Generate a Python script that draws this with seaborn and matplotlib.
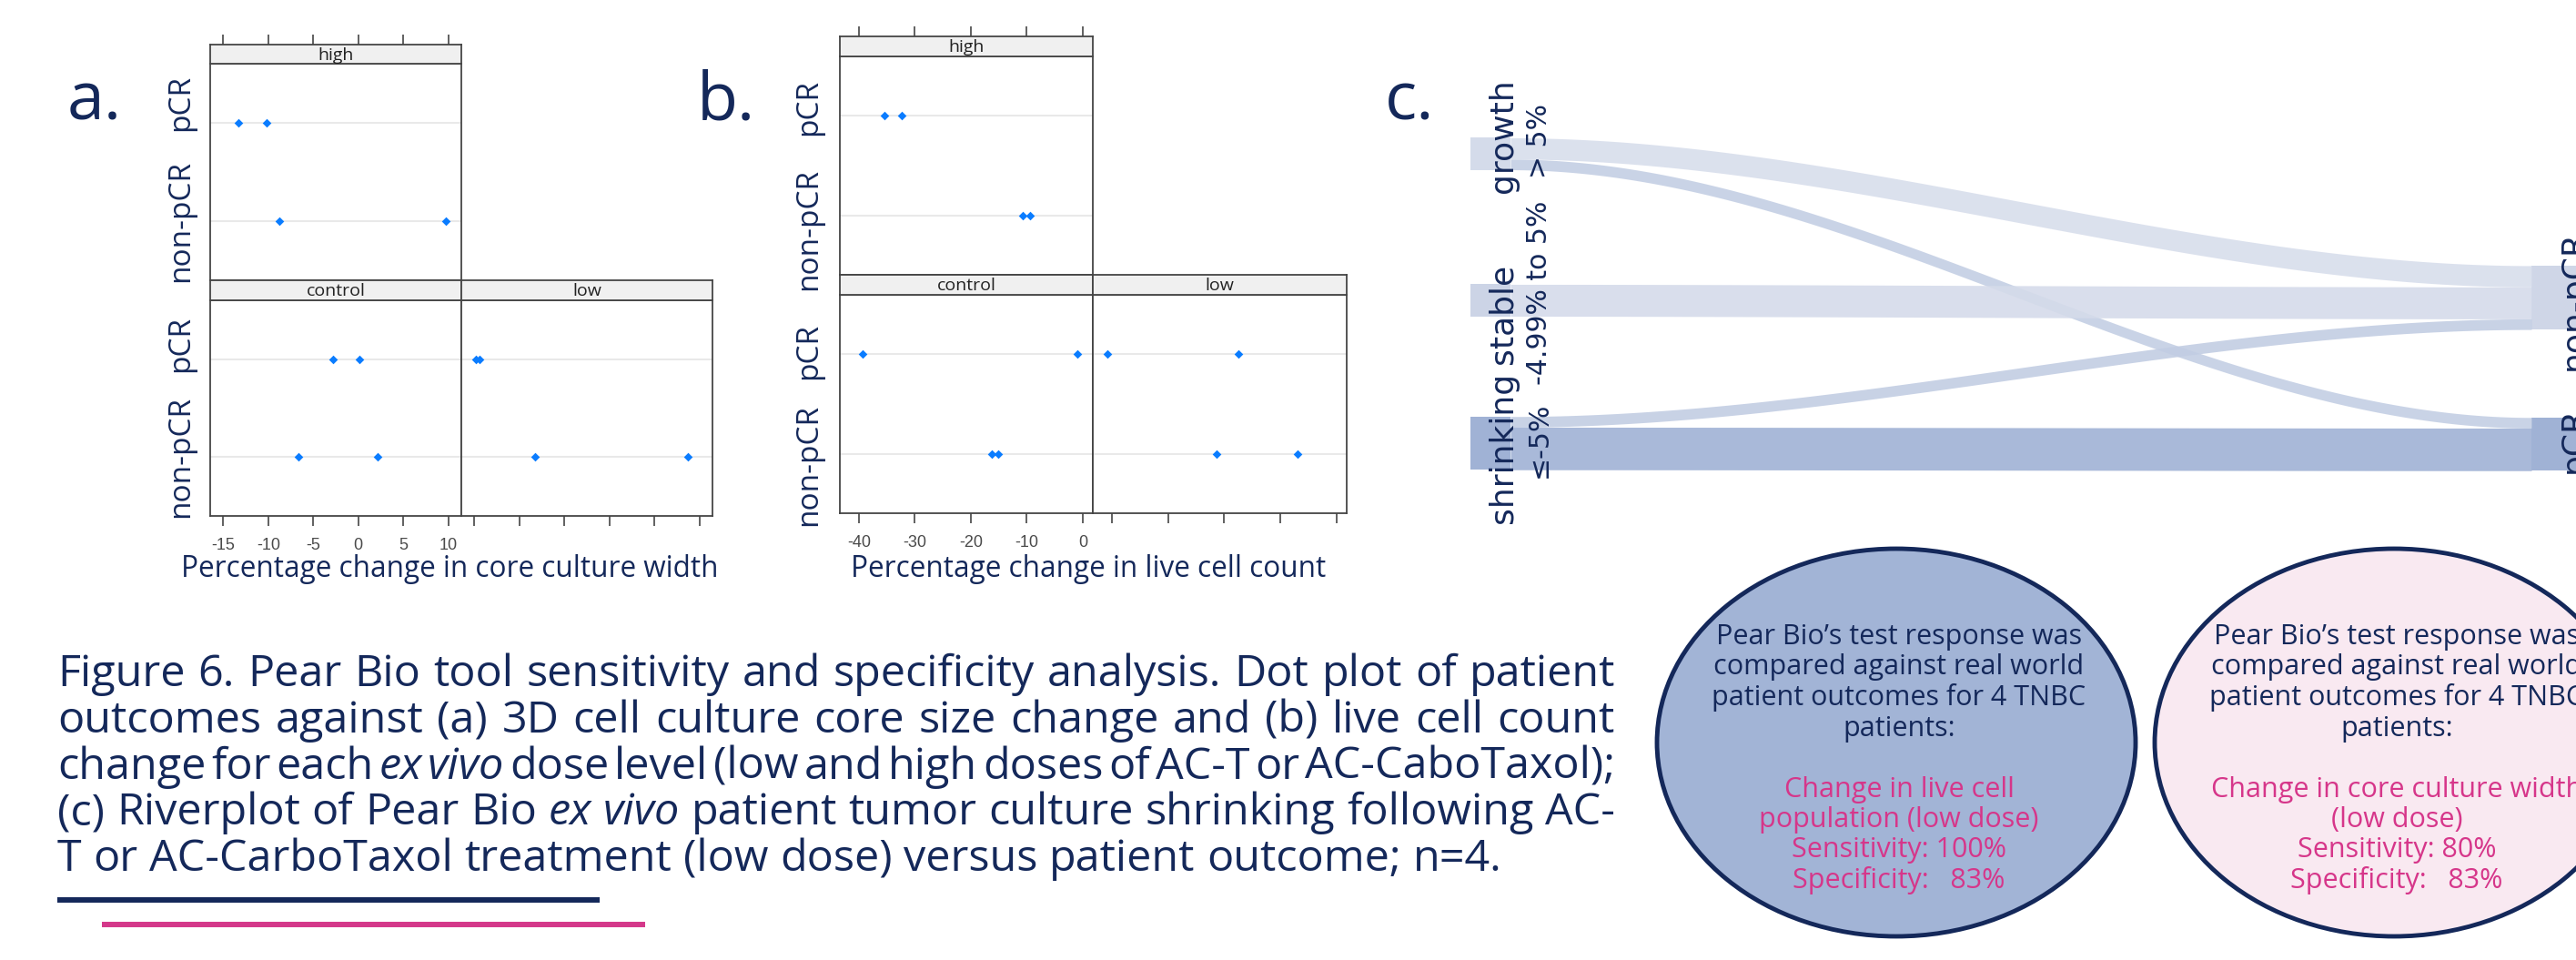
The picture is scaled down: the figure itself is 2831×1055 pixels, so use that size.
import numpy as np
import pandas as pd
import seaborn as sns
import matplotlib.pyplot as plt
import matplotlib.transforms as mtransforms
from matplotlib.colors import to_rgb
from matplotlib.patches import Ellipse, Rectangle

sns.set_theme(style="white")
plt.rcParams['font.family'] = ['Open Sans', 'DejaVu Sans']

NAVY = '#14285a'
PINK = '#d6368a'
BLUE = '#0a7cff'
NARROW = ['Liberation Sans Narrow', 'Liberation Sans', 'DejaVu Sans']

# ---------------- data ----------------
# panel a: percentage change in core culture width
a_high_pcr = [-13.3, -10.2]
a_high_non = [-8.8, 9.7]
a_control_pcr = [-2.8, 0.1]
a_control_non = [-6.6, 2.1]
a_low_pcr = [-14.8, -14.4]
a_low_non = [-8.3, 8.7]
a_ticks = [-15, -10, -5, 0, 5, 10]

# panel b: percentage change in live cell count
b_high_pcr = [-35.4, -32.3]
b_high_non = [-10.8, -9.4]
b_control_pcr = [-39.4, -1.0]
b_control_non = [-16.2, -15.1]
b_low_pcr = [-40.8, -17.5]
b_low_non = [-21.4, -7.0]
b_ticks = [-40, -30, -20, -10, 0]

outcomes = ['pCR', 'non-pCR']

# panel c: riverplot
river_left = ['growth', 'stable', 'shrinking']
river_left_sub = ['> 5%', '-4.99% to 5%', '≤-5%']
river_right = ['non-pCR', 'pCR']
flow_src = ['growth', 'growth', 'stable', 'shrinking', 'shrinking']
flow_dst = ['non-pCR', 'pCR', 'non-pCR', 'non-pCR', 'pCR']
flow_val = [2, 1, 3, 1, 4]

caption = [
    "Figure 6. Pear Bio tool sensitivity and specificity analysis. Dot plot of patient",
    "outcomes against (a) 3D cell culture core size change and (b) live cell count",
    "change for each *ex* *vivo* dose level (low and high doses of AC-T or AC-CaboTaxol);",
    "(c) Riverplot of Pear Bio *ex* *vivo* patient tumor culture shrinking following AC-",
    "T or AC-CarboTaxol treatment (low dose) versus patient outcome; n=4.",
]
left_navy = ["Pear Bio’s test response was", "compared against real world",
             "patient outcomes for 4 TNBC", "patients:"]
left_pink = ["Change in live cell", "population (low dose)",
             "Sensitivity: 100%", "Specificity:   83%"]
right_navy = left_navy
right_pink = ["Change in core culture width", "(low dose)",
              "Sensitivity: 80%", "Specificity:   83%"]


def make_df(high_p, high_n, ctl_p, ctl_n, low_p, low_n):
    rows = []
    for dose, outc, xs in [('high', 'pCR', high_p), ('high', 'non-pCR', high_n),
                           ('control', 'pCR', ctl_p), ('control', 'non-pCR', ctl_n),
                           ('low', 'pCR', low_p), ('low', 'non-pCR', low_n)]:
        for x in xs:
            rows.append({'dose': dose, 'outcome': outc, 'change': x})
    df = pd.DataFrame(rows)
    df['ypos'] = df['outcome'].map({'pCR': 2, 'non-pCR': 1})
    return df


df_a = make_df(a_high_pcr, a_high_non, a_control_pcr, a_control_non, a_low_pcr, a_low_non)
df_b = make_df(b_high_pcr, b_high_non, b_control_pcr, b_control_non, b_low_pcr, b_low_non)

# ---------------- figure ----------------
W, H = 2831, 1055
fig = plt.figure(figsize=(W / 100, H / 100), dpi=100)
bg = fig.add_axes([0, 0, 1, 1])
bg.set_xlim(0, W)
bg.set_ylim(H, 0)
bg.axis('off')


def fbox(x0, y0, x1, y1):
    return [x0 / W, 1 - y1 / H, (x1 - x0) / W, (y1 - y0) / H]


def style_spines(ax):
    for sp in ax.spines.values():
        sp.set_visible(True)
        sp.set_color('#454545')
        sp.set_linewidth(1.3)


def dot_panel(df, ticks, xlim, geo, xlabel, xlabel_x, letter, letter_x, ylab_x, ylab_shift):
    x0, x1, x2, y0, y1, y2, y3, y4 = geo
    facets = {'high': (x0, x1, y1, y2, y0), 'control': (x0, x1, y3, y4, y2),
              'low': (x1, x2, y3, y4, y2)}
    for dose, (l, r, t, b, st) in facets.items():
        ax = fig.add_axes(fbox(l, t, r, b))
        for v in [1, 2]:
            ax.axhline(v, color='#e9e9e9', lw=1.5, zorder=0)
        sns.scatterplot(data=df[df['dose'] == dose], x='change', y='ypos', ax=ax,
                        marker='D', s=24, color=BLUE, linewidth=0, legend=False, zorder=3)
        ax.set_xlim(xlim)
        ax.set_ylim(0.4, 2.6)
        ax.set_yticks([])
        ax.set_xlabel('')
        ax.set_ylabel('')
        style_spines(ax)
        if dose == 'high':
            ax.set_xticks([])
        else:
            ax.set_xticks(ticks)
            ax.tick_params(axis='x', bottom=True, direction='out', length=8, width=1.2,
                           color='#454545', labelsize=13, labelcolor='#4a4a4a', pad=9)
            if dose == 'low':
                ax.set_xticklabels([])
            else:
                ax.set_xticklabels([str(t_) for t_ in ticks])
                for lbl in ax.get_xticklabels():
                    lbl.set_family(NARROW)
        # y labels
        tr = mtransforms.blended_transform_factory(bg.transData, ax.transData)
        if dose != 'low':
            sh = ylab_shift[0] if dose == 'high' else ylab_shift[1]
            for name, v in zip(outcomes, [2, 1]):
                off = sh[0] if name == 'pCR' else sh[1]
                fig.text(ylab_x, v + off, name, transform=tr, rotation=90,
                         ha='center', va='center', fontsize=24, color=NAVY)
        # strip
        sax = fig.add_axes(fbox(l, st, r, t))
        sax.set_facecolor('#f0f0f0')
        style_spines(sax)
        sax.set_xlim(xlim)
        sax.set_ylim(0, 1)
        sax.set_yticks([])
        sax.text(0.5, 0.45, dose, transform=sax.transAxes, ha='center', va='center',
                 fontsize=14, color='#222222')
        if dose == 'high':
            sax.xaxis.tick_top()
            sax.set_xticks(ticks)
            sax.set_xticklabels([])
            sax.tick_params(axis='x', top=True, bottom=False, direction='out', length=8,
                            width=1.2, color='#454545')
        else:
            sax.set_xticks([])
    bg.text(xlabel_x, 626, xlabel, ha='center', va='center', fontsize=22.7, color=NAVY)
    bg.text(letter_x, 132, letter, ha='left', va='baseline', fontsize=53, color=NAVY)


dot_panel(df_a, a_ticks, (-16.45, 11.45), (231, 507, 783, 49, 70, 308, 330, 567),
          'Percentage change in core culture width', 494, 'a.', 74, 199,
          [(0.2, 0.0), (0.15, 0.0)])
dot_panel(df_b, b_ticks, (-43.4, 1.8), (923, 1201, 1480, 40, 62, 302, 324, 564),
          'Percentage change in live cell count', 1196, 'b.', 766, 889,
          [(0.09, -0.14), (0.03, -0.11)])

# ---------------- riverplot ----------------
bg.text(1522, 132, 'c.', ha='left', va='baseline', fontsize=53, color=NAVY)
axr = fig.add_axes(fbox(1500, 0, 2831, 600))
axr.set_xlim(1500, 2831)
axr.set_ylim(600, 0)
axr.axis('off')

UNIT = 11.7
XL0, XL1, XR0, XR1 = 1616, 1660, 2782, 2860
left_center = {'growth': 169, 'stable': 330, 'shrinking': 487}
right_center = {'non-pCR': 327, 'pCR': 488}
node_color = {'growth': '#d4dbea', 'stable': '#ccd4e6', 'shrinking': '#a0b2d5',
              'non-pCR': '#cfd6e7', 'pCR': '#a0b2d5'}

src_tot = {n: sum(v for s, v in zip(flow_src, flow_val) if s == n) for n in river_left}
dst_tot = {n: sum(v for d, v in zip(flow_dst, flow_val) if d == n) for n in river_right}
lcur = {n: left_center[n] - src_tot[n] * UNIT / 2 for n in river_left}
rcur = {n: right_center[n] - dst_tot[n] * UNIT / 2 for n in river_right}

for n in river_left:
    axr.add_patch(Rectangle((XL0, lcur[n]), XL1 - XL0, src_tot[n] * UNIT,
                            color=node_color[n], lw=0))
for n in river_right:
    axr.add_patch(Rectangle((XR0, rcur[n]), XR1 - XR0, dst_tot[n] * UNIT,
                            color=node_color[n], lw=0))

xs = np.linspace(XL1, XR0, 400)
tt = (xs - XL1) / (XR0 - XL1)
ss = tt * tt * (3 - 2 * tt)
for s, d, v in zip(flow_src, flow_dst, flow_val):
    h = v * UNIT
    ya, yb = lcur[s], rcur[d]
    lcur[s] += h
    rcur[d] += h
    top = ya + (yb - ya) * ss
    c = (np.array(to_rgb(node_color[s])) + np.array(to_rgb(node_color[d]))) / 2
    if s != 'shrinking' or d != 'pCR':
        c = 0.85 * c + 0.15  # mixed flows look a little paler
    axr.fill_between(xs, top, top + h, color=c, alpha=0.9, lw=0)

main_pos = {'growth': (1652, 149), 'stable': (1652, 345), 'shrinking': (1652, 492)}
sub_pos = {'growth': (1691, 155), 'stable': (1691, 322), 'shrinking': (1691, 483)}
for n, sub in zip(river_left, river_left_sub):
    axr.text(*main_pos[n], n, rotation=90, ha='center', va='center', fontsize=26,
             color=NAVY, family='DejaVu Sans')
    axr.text(*sub_pos[n], sub, rotation=90, ha='center', va='center', fontsize=21.5,
             color=NAVY, family='DejaVu Sans')
for n, yc in zip(river_right, [330, 483]):
    axr.text(2812, yc, n, rotation=90, ha='left', va='center', fontsize=26,
             color=NAVY, family='DejaVu Sans', clip_on=False)

# ---------------- ellipses ----------------
for cx, fc, navy_lines, pink_lines in [(2084, '#a2b4d6', left_navy, left_pink),
                                         (2631, '#f9e9f1', right_navy, right_pink)]:
    bg.add_patch(Ellipse((cx, 816), 526, 426, fc=fc, ec=NAVY, lw=3.5))
    for i, line in enumerate(navy_lines):
        bg.text(cx + 3, 708 + 33.5 * i, line, ha='center', va='baseline',
                fontsize=22, color=NAVY)
    for i, line in enumerate(pink_lines):
        bg.text(cx + 3, 876 + 33.2 * i, line, ha='center', va='baseline',
                fontsize=22, color=PINK)

# ---------------- caption ----------------
renderer = fig.canvas.get_renderer()
CAP_FONT = 'Open Sans'


def width_of(s, size, italic=False):
    t = bg.text(0, 0, s, fontsize=size, style='italic' if italic else 'normal',
                family=CAP_FONT)
    w = t.get_window_extent(renderer).width
    t.remove()
    return w


def words_of(line):
    out = []
    for w in line.split(' '):
        if w.startswith('*') and w.endswith('*'):
            out.append((w.strip('*'), True))
        else:
            out.append((w, False))
    return out


base = 20
space = width_of('a a', base) - width_of('aa', base)
nat = []
for line in caption[:-1]:
    ws = words_of(line)
    nat.append(sum(width_of(w, base, it) for w, it in ws) + space * 0.5 * (len(ws) - 1))
size = base * 1712 / max(nat)

CX0, CX1, LAST_END = 63, 1775, 1622
for i, line in enumerate(caption):
    yb = 754 + 50.8 * i
    ws = words_of(line)
    widths = [width_of(w, size, it) for w, it in ws]
    end = CX1 if i < len(caption) - 1 else LAST_END
    gap = (end - CX0 - sum(widths)) / (len(ws) - 1)
    if i == len(caption) - 1:
        gap = min(max(gap, space * size / base), 2 * space * size / base)
    x = CX0
    for (w, it), wd in zip(ws, widths):
        bg.text(x, yb, w, fontsize=size, style='italic' if it else 'normal',
                family=CAP_FONT, ha='left', va='baseline', color=NAVY)
        x += wd + gap

bg.plot([63, 659], [989, 989], color=NAVY, lw=4.3, solid_capstyle='butt')
bg.plot([112, 709], [1016, 1016], color='#d4388a', lw=4.3, solid_capstyle='butt')

fig.savefig('out.png', dpi=100)
